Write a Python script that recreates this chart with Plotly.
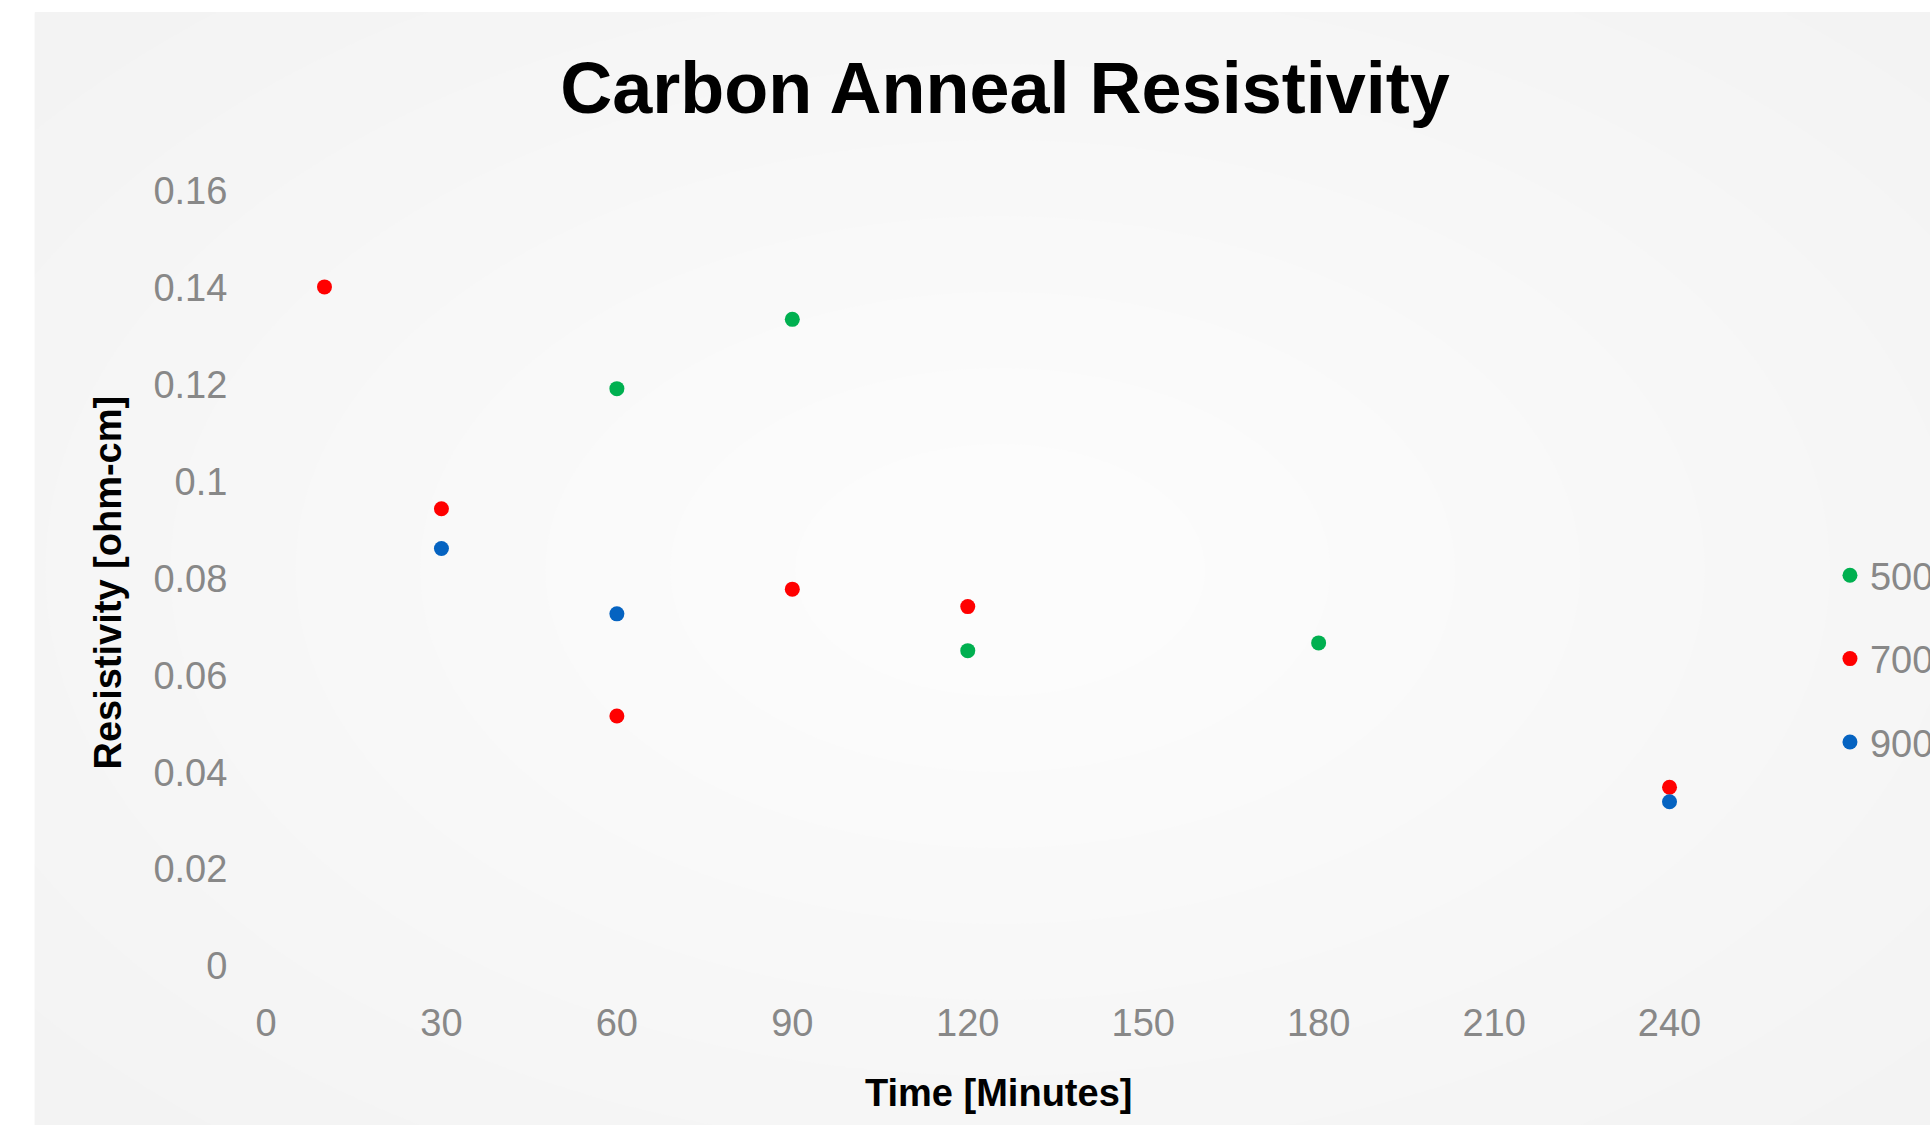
import plotly.graph_objects as go

# ---- data ----
series_names = ["500°C", "700°C", "900°C"]
series_colors = ["#00B050", "#FF0000", "#0563C1"]

t_500 = [60, 90, 120, 180]
r_500 = [0.1192, 0.1335, 0.0651, 0.0667]

t_700 = [10, 30, 60, 90, 120, 240]
r_700 = [0.1402, 0.0944, 0.0516, 0.0778, 0.0742, 0.0369]

t_900 = [30, 60, 240]
r_900 = [0.0862, 0.0727, 0.0339]

x_ticks = [0, 30, 60, 90, 120, 150, 180, 210, 240]
y_ticks = [0, 0.02, 0.04, 0.06, 0.08, 0.10, 0.12, 0.14, 0.16]
y_tick_text = ["0", "0.02", "0.04", "0.06", "0.08", "0.1", "0.12", "0.14", "0.16"]

title_text = "Carbon Anneal Resistivity"
x_title = "Time [Minutes]"
y_title = "Resistivity [ohm-cm]"

# ---- layout geometry (pixels) ----
W, H = 1930, 1125
PL, PR, PT, PB = 265.5, 1728, 191, 966


def fx(px):
    return (px - PL) / (PR - PL)


def fy(py):
    return (PB - py) / (PB - PT)


FONT = "Liberation Sans, Arial, sans-serif"
GRAY = "#888888"

fig = go.Figure()
for name, color, xs, ys in zip(series_names, series_colors,
                               [t_500, t_700, t_900], [r_500, r_700, r_900]):
    fig.add_trace(go.Scatter(
        x=xs, y=ys, mode="markers", name=name, legendgroup=name,
        marker=dict(color=color, size=15, line=dict(width=0)),
    ))

# background: soft radial-looking gradient
shapes = [dict(type="rect", xref="paper", yref="paper", layer="below",
               x0=fx(34), x1=fx(2000), y0=fy(1200), y1=fy(12),
               fillcolor="#f2f2f2", line=dict(width=0))]
cx, cy = 1000, 570
steps = ["#f3f3f3", "#f4f4f4", "#f5f5f5", "#f6f6f6", "#f7f7f7",
         "#f8f8f8", "#f9f9f9", "#fafafa", "#fbfbfb", "#fcfcfc"]
n = len(steps)
for i, col in enumerate(steps):
    k = 1 - i / n
    rx, ry = 1250 * k + 80, 760 * k + 50
    shapes.append(dict(type="circle", xref="paper", yref="paper", layer="below",
                       x0=fx(cx - rx), x1=fx(cx + rx), y0=fy(cy + ry), y1=fy(cy - ry),
                       fillcolor=col, line=dict(width=0)))
# white outer strips (top and left)
shapes.append(dict(type="rect", xref="paper", yref="paper", layer="below",
                   x0=fx(-10), x1=fx(2000), y0=fy(12), y1=fy(-20),
                   fillcolor="white", line=dict(width=0)))
shapes.append(dict(type="rect", xref="paper", yref="paper", layer="below",
                   x0=fx(-10), x1=fx(34), y0=fy(1200), y1=fy(-20),
                   fillcolor="white", line=dict(width=0)))

annotations = [
    dict(text=x_title, xref="paper", yref="paper", x=fx(998), y=fy(1093),
         xanchor="center", yanchor="middle", showarrow=False,
         font=dict(family=FONT, size=38, color="#000000", weight="bold")),
    dict(text=y_title, xref="paper", yref="paper", x=fx(107), y=fy(583),
         xanchor="center", yanchor="middle", showarrow=False, textangle=-90,
         font=dict(family=FONT, size=38, color="#000000", weight="bold")),
]

fig.update_layout(
    width=W, height=H,
    margin=dict(l=PL, r=W - PR, t=PT, b=H - PB, pad=0, autoexpand=False),
    paper_bgcolor="white",
    plot_bgcolor="rgba(0,0,0,0)",
    title=dict(text=title_text, x=1005 / W, xref="container", xanchor="center",
               y=1 - 88 / H, yref="container", yanchor="middle",
               font=dict(family=FONT, size=72, color="#000000", weight="bold")),
    xaxis=dict(range=[0, 250], tickvals=x_ticks, showgrid=False, zeroline=False,
               showline=False, ticks="outside", ticklen=23, tickcolor="rgba(0,0,0,0)",
               tickfont=dict(family=FONT, size=38, color=GRAY)),
    yaxis=dict(range=[0, 0.16], tickvals=y_ticks, ticktext=y_tick_text,
               showgrid=False, zeroline=False, showline=False,
               ticks="outside", ticklen=30, tickcolor="rgba(0,0,0,0)",
               tickfont=dict(family=FONT, size=38, color=GRAY)),
    legend=dict(x=fx(1830), y=fy(544), xanchor="left", yanchor="top",
                xref="paper", yref="paper", bgcolor="rgba(0,0,0,0)",
                font=dict(family=FONT, size=38, color=GRAY),
                tracegroupgap=31, itemwidth=30),
    shapes=shapes,
    annotations=annotations,
    showlegend=True,
)

fig.write_html("out.html")
